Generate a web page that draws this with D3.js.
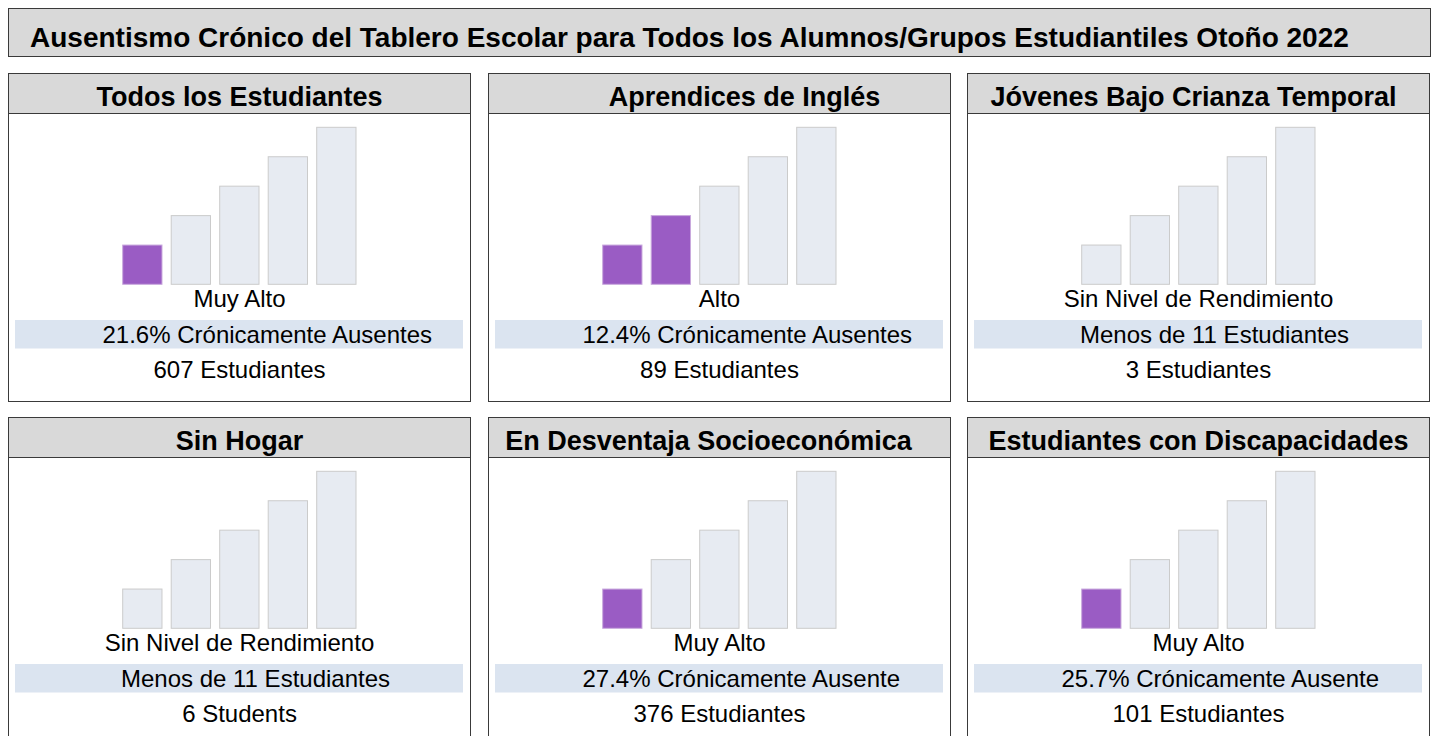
<!DOCTYPE html>
<html>
<head>
<meta charset="utf-8">
<script src="https://cdn.jsdelivr.net/npm/d3@7"></script>
<style>
  body { margin: 0; background: #fff; }
  text { font-family: "Liberation Sans", Arial, sans-serif; fill: #000; }
</style>
</head>
<body>
<div id="chart"></div>
<script>
var Width = 1435, Height = 736;

var title = "Ausentismo Crónico del Tablero Escolar para Todos los Alumnos/Grupos Estudiantiles Otoño 2022";
var groups = ["Todos los Estudiantes", "Aprendices de Inglés", "Jóvenes Bajo Crianza Temporal",
              "Sin Hogar", "En Desventaja Socioeconómica", "Estudiantes con Discapacidades"];
var levels = ["Muy Alto", "Alto", "Sin Nivel de Rendimiento",
              "Sin Nivel de Rendimiento", "Muy Alto", "Muy Alto"];
var filled = [1, 2, 0, 0, 1, 1];
var rates = ["21.6% Crónicamente Ausentes", "12.4% Crónicamente Ausentes", "Menos de 11 Estudiantes",
             "Menos de 11 Estudiantes", "27.4% Crónicamente Ausente", "25.7% Crónicamente Ausente"];
var counts = ["607 Estudiantes", "89 Estudiantes", "3 Estudiantes",
              "6 Students", "376 Estudiantes", "101 Estudiantes"];
var barSteps = [1, 2, 3, 4, 5];

var PanelW = 463, PanelH = 328, HeaderH = 40;
var colX = [8, 488, 967], rowY = [73, 417];
// headers in the original are not all exactly centred
var headDx = [0, 25, -5, 0, -11, 0];

var svg = d3.select("#chart").append("svg")
    .attr("width", Width)
    .attr("height", Height);

// title box
svg.append("rect")
   .attr("x", 8.5).attr("y", 8.5)
   .attr("width", 1422).attr("height", 48)
   .style("fill", "#d9d9d9")
   .style("stroke", "#3a3a3a");
svg.append("text")
   .attr("x", 30).attr("y", 46.5)
   .style("font-size", "28px")
   .style("font-weight", "bold")
   .text(title);

var x = d3.scaleBand()
    .domain(barSteps)
    .range([114.7, 348])
    .paddingInner(0.19);

var y = d3.scaleLinear()
    .domain([-1 / 3, 5])
    .range([211.3, 54.3]);

groups.forEach(function(name, i) {
  var g = svg.append("g")
      .attr("transform", "translate(" + colX[i % 3] + "," + rowY[Math.floor(i / 3)] + ")");

  g.append("rect")
   .attr("x", 0.5).attr("y", 0.5)
   .attr("width", PanelW - 1).attr("height", PanelH)
   .style("fill", "#fff")
   .style("stroke", "#3a3a3a");
  g.append("rect")
   .attr("x", 0.5).attr("y", 0.5)
   .attr("width", PanelW - 1).attr("height", HeaderH)
   .style("fill", "#d9d9d9")
   .style("stroke", "#3a3a3a");
  g.append("text")
   .attr("x", PanelW / 2 + headDx[i]).attr("y", 33)
   .attr("text-anchor", "middle")
   .style("font-size", "27px")
   .style("font-weight", "bold")
   .text(name);

  g.selectAll(".bar")
   .data(barSteps)
   .enter().append("rect")
   .attr("class", "bar")
   .attr("x", function(d) { return x(d); })
   .attr("y", function(d) { return y(d); })
   .attr("width", x.bandwidth())
   .attr("height", function(d) { return y(-1 / 3) - y(d); })
   .style("fill", function(d) { return d <= filled[i] ? "#9a5cc4" : "#e7ebf2"; })
   .style("stroke", function(d) { return d <= filled[i] ? "#c9a9dd" : "#cbcbcb"; })
   .style("stroke-width", 1);

  g.append("text")
   .attr("x", PanelW / 2).attr("y", 233.5)
   .attr("text-anchor", "middle")
   .style("font-size", "24px")
   .text(levels[i]);

  g.append("rect")
   .attr("x", 7).attr("y", 247)
   .attr("width", 448).attr("height", 28.5)
   .style("fill", "#dbe4f0");
  // percentage lines sit at a fixed left edge, the others are centred a bit right
  var isPct = /^\d/.test(rates[i]);
  g.append("text")
   .attr("x", isPct ? 94.5 : PanelW / 2 + 16).attr("y", 269.5)
   .attr("text-anchor", isPct ? "start" : "middle")
   .style("font-size", "24px")
   .text(rates[i]);

  g.append("text")
   .attr("x", PanelW / 2).attr("y", 304.5)
   .attr("text-anchor", "middle")
   .style("font-size", "24px")
   .text(counts[i]);
});
</script>
</body>
</html>
